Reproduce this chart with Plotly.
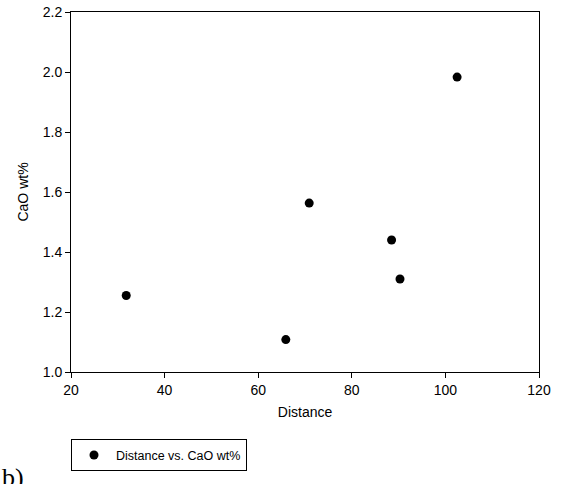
import plotly.graph_objects as go

distance = [31.8, 65.9, 70.9, 88.5, 90.3, 102.5]
cao_wt = [1.255, 1.108, 1.563, 1.440, 1.310, 1.983]
x_ticks = [20, 40, 60, 80, 100, 120]
y_ticks = [1.0, 1.2, 1.4, 1.6, 1.8, 2.0, 2.2]

FONT = "Liberation Sans, Arial"

fig = go.Figure()
fig.add_trace(go.Scatter(
    x=distance, y=cao_wt, mode="markers",
    name="Distance vs. CaO wt%",
    marker=dict(color="black", size=9, line=dict(width=0)),
))

axis_common = dict(
    showline=True, linecolor="black", linewidth=1, mirror=True,
    ticks="outside", ticklen=5, tickcolor="black", tickwidth=1,
    showgrid=False, zeroline=False, automargin=False,
    tickfont=dict(family=FONT, size=14, color="black"),
)

fig.update_layout(
    width=563, height=484,
    margin=dict(l=71, r=24, t=12, b=112),
    paper_bgcolor="white", plot_bgcolor="white",
    xaxis=dict(range=[20, 120], tickvals=x_ticks, ticktext=[str(v) for v in x_ticks],
               title=dict(text="Distance", font=dict(family=FONT, size=14, color="black"), standoff=10),
               **axis_common),
    yaxis=dict(range=[1.0, 2.2], tickvals=y_ticks, ticktext=[f"{v:.1f}" for v in y_ticks],
               title=dict(text="CaO wt%", font=dict(family=FONT, size=14, color="black"), standoff=10),
               **axis_common),
    showlegend=True,
    legend=dict(x=0, y=-0.187, xanchor="left", yanchor="top",
                bordercolor="black", borderwidth=1, bgcolor="white",
                itemwidth=34,
                font=dict(family=FONT, size=12.5, color="black")),
    annotations=[dict(text="b)", xref="paper", yref="paper", x=-0.151, y=-0.34,
                      xanchor="left", yanchor="bottom", showarrow=False,
                      font=dict(family="Liberation Serif, Times New Roman", size=26, color="black"))],
)

fig.write_html("out.html")
